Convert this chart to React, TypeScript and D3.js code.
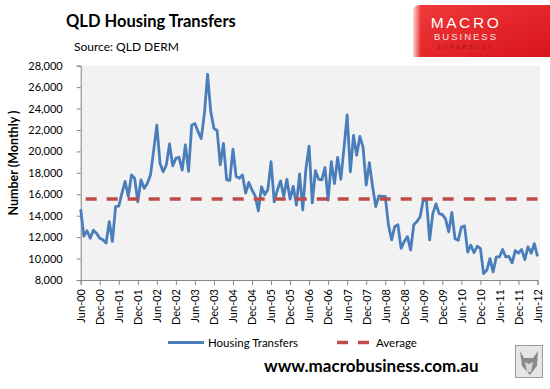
import React, { useEffect, useRef } from 'react';
import * as d3 from 'd3';

// monthly QLD housing transfers, Jun-00 .. Jun-12
const transfers = [
  14600, 12100, 12600, 11900, 12650, 12350, 11900, 11750, 11450, 13450, 11600, 14850,
  14900, 16100, 17200, 15800, 17800, 17500, 15300, 17350, 16550, 17000, 17800, 20100,
  22450, 18900, 18100, 18750, 20700, 18650, 19350, 19450, 18250, 20600, 18150, 22450,
  22600, 21850, 21200, 23550, 27200, 23700, 22150, 21950, 18750, 20750, 17350, 17300,
  20200, 17650, 17500, 17800, 16100, 17100, 16400, 15850, 14450, 16700, 15950, 16450,
  19050, 15300, 16400, 17250, 15800, 17400, 15550, 16750, 15000, 17900, 14550, 18400,
  20500, 15200, 18200, 17400, 17350, 18500, 15450, 19050, 17000, 19450, 17400, 20300,
  23400, 18100, 21500, 19650, 21400, 20400, 16850, 18950, 16750, 14850, 15850, 15800,
  15800, 13150, 11750, 13000, 13150, 10950, 11600, 12050, 10800, 13150, 13450, 13900,
  15500, 15400, 11750, 14200, 15100, 14200, 14100, 13700, 12500, 14300, 11850, 11700,
  12950, 13050, 10600, 11250, 10550, 11150, 10950, 8600, 8900, 10000, 8750, 10150,
  10150, 10850, 10150, 10200, 9600, 10750, 10500, 10850, 9900, 11100, 10500, 11400,
  10200,
];

const average = 15550;

const tickLabels = [
  'Jun-00', 'Dec-00', 'Jun-01', 'Dec-01', 'Jun-02', 'Dec-02', 'Jun-03', 'Dec-03',
  'Jun-04', 'Dec-04', 'Jun-05', 'Dec-05', 'Jun-06', 'Dec-06', 'Jun-07', 'Dec-07',
  'Jun-08', 'Dec-08', 'Jun-09', 'Dec-09', 'Jun-10', 'Dec-10', 'Jun-11', 'Dec-11', 'Jun-12',
];

const yTicks = [8000, 10000, 12000, 14000, 16000, 18000, 20000, 22000, 24000, 26000, 28000];

const FONT = 'Lato, "Liberation Sans", sans-serif';

const App = () => {
  const svgRef = useRef(null);

  useEffect(() => {
    const width = 550;
    const height = 389;
    const plot = { left: 80.7, right: 537.5, top: 65.7, bottom: 280 };

    const svg = d3.select(svgRef.current);
    svg.selectAll('*').remove();
    svg.attr('width', width).attr('height', height);

    // logo
    const defs = svg.append('defs');
    const grad = defs.append('linearGradient').attr('id', 'logoGrad')
      .attr('x1', 0).attr('y1', 0).attr('x2', 1).attr('y2', 1);
    grad.append('stop').attr('offset', '0%').attr('stop-color', '#f03a3a');
    grad.append('stop').attr('offset', '100%').attr('stop-color', '#d8141c');
    const fade = defs.append('linearGradient').attr('id', 'logoFade')
      .attr('x1', 0).attr('y1', 0).attr('x2', 1).attr('y2', 0);
    fade.append('stop').attr('offset', '0%').attr('stop-color', '#ffffff').attr('stop-opacity', 0.8);
    fade.append('stop').attr('offset', '100%').attr('stop-color', '#ffffff').attr('stop-opacity', 0);

    svg.append('path')
      .attr('d', 'M413,57 L413,12 Q413,5 420,5 L550,5 L550,57 Z')
      .attr('fill', 'url(#logoGrad)');
    svg.append('rect').attr('x', 413).attr('y', 5).attr('width', 8).attr('height', 52)
      .attr('fill', 'url(#logoFade)');
    svg.append('text').attr('x', 466).attr('y', 28).attr('text-anchor', 'middle')
      .attr('fill', '#fff').style('font-family', '"Liberation Sans", sans-serif')
      .style('font-size', '15.5px').style('letter-spacing', '2.6px').text('MACRO');
    svg.append('text').attr('x', 466).attr('y', 40).attr('text-anchor', 'middle')
      .attr('fill', '#fbe3e3').style('font-family', '"Liberation Sans", sans-serif')
      .style('font-size', '9.5px').style('letter-spacing', '2px').text('BUSINESS');
    svg.append('text').attr('x', 466).attr('y', 49).attr('text-anchor', 'middle')
      .attr('fill', '#9a1016').style('font-family', '"Liberation Sans", sans-serif')
      .style('font-size', '5px').style('letter-spacing', '3px').text('SUPERBLOG');

    // titles
    svg.append('text').attr('x', 66).attr('y', 27)
      .style('font-family', FONT).style('font-weight', 'bold').style('font-size', '16.5px')
      .attr('fill', '#000').text('QLD Housing Transfers');
    svg.append('text').attr('x', 74).attr('y', 51)
      .style('font-family', FONT).style('font-size', '12px')
      .attr('fill', '#000').text('Source: QLD DERM');

    // scales
    const xScale = d3.scaleLinear().domain([0, transfers.length - 1]).range([plot.left, plot.right]);
    const yScale = d3.scaleLinear().domain([8000, 28000]).range([plot.bottom, plot.top]);

    svg.append('rect')
      .attr('x', plot.left).attr('y', plot.top)
      .attr('width', 540 - plot.left).attr('height', plot.bottom - plot.top)
      .attr('fill', '#f2f2f2');

    // y axis
    const yAxis = svg.append('g')
      .attr('transform', `translate(${plot.left},0)`)
      .call(d3.axisLeft(yScale).tickValues(yTicks).tickFormat(d3.format(',')).tickSize(4).tickPadding(14));
    yAxis.select('.domain').attr('stroke', '#868686');
    yAxis.selectAll('line').attr('stroke', '#868686');
    yAxis.selectAll('text')
      .style('font-family', FONT).style('font-size', '11px').attr('fill', '#000');

    // x axis
    const xAxis = svg.append('g')
      .attr('transform', `translate(0,${plot.bottom})`)
      .call(d3.axisBottom(xScale)
        .tickValues(tickLabels.map((_, i) => i * 6))
        .tickFormat((d) => tickLabels[d / 6])
        .tickSize(5));
    xAxis.select('.domain').attr('stroke', '#868686');
    xAxis.selectAll('line').attr('stroke', '#868686');
    xAxis.selectAll('text')
      .attr('transform', 'rotate(-90)')
      .attr('x', -9)
      .attr('y', 0)
      .attr('dy', '0.35em')
      .attr('text-anchor', 'end')
      .style('font-family', FONT).style('font-size', '11px').attr('fill', '#000');

    // axis title
    svg.append('text')
      .attr('transform', 'rotate(-90)')
      .attr('x', -163).attr('y', 18)
      .attr('text-anchor', 'middle')
      .style('font-family', FONT).style('font-weight', 'bold').style('font-size', '12.5px')
      .text('Number (Monthly )');

    // series
    const line = d3.line()
      .x((d, i) => xScale(i))
      .y((d) => yScale(d));
    svg.append('path')
      .datum(transfers)
      .attr('d', line)
      .attr('fill', 'none')
      .attr('stroke', '#4a7ebb')
      .attr('stroke-width', 2.8)
      .attr('stroke-linejoin', 'round');

    svg.append('line')
      .attr('x1', plot.left + 5).attr('x2', plot.right)
      .attr('y1', yScale(average)).attr('y2', yScale(average))
      .attr('stroke', '#be4b48').attr('stroke-width', 3.5)
      .attr('stroke-dasharray', '11,10');

    // legend
    const legend = svg.append('g');
    legend.append('line').attr('x1', 168).attr('x2', 204).attr('y1', 342.5).attr('y2', 342.5)
      .attr('stroke', '#4a7ebb').attr('stroke-width', 2.8);
    legend.append('text').attr('x', 208).attr('y', 346.5)
      .style('font-family', FONT).style('font-size', '11.5px').text('Housing Transfers');
    legend.append('line').attr('x1', 337).attr('x2', 371).attr('y1', 342.5).attr('y2', 342.5)
      .attr('stroke', '#be4b48').attr('stroke-width', 3.5).attr('stroke-dasharray', '11,10');
    legend.append('text').attr('x', 376).attr('y', 346.5)
      .style('font-family', FONT).style('font-size', '11.5px').text('Average');

    // footer
    svg.append('text').attr('x', 264).attr('y', 372)
      .style('font-family', FONT).style('font-weight', 'bold').style('font-size', '17px')
      .text('www.macrobusiness.com.au');

    const wolf = svg.append('g');
    wolf.append('rect').attr('x', 515.5).attr('y', 345.5).attr('width', 27).attr('height', 32)
      .attr('fill', '#e6e6e6').attr('stroke', '#9a9a9a');
    wolf.append('path')
      .attr('d', 'M520,351 L524,358 L533,358 L538,351 L537,366 L530,375 L522,366 Z')
      .attr('fill', '#8a8a8a');
    wolf.append('path')
      .attr('d', 'M525,362 L529,364 L533,362 L531,372 L527,372 Z')
      .attr('fill', '#d6d6d6');
  }, []);

  return (
    <svg ref={svgRef} width={550} height={389} style={{ position: 'absolute', left: 0, top: 0, background: '#fff' }} />
  );
};

export default App;
